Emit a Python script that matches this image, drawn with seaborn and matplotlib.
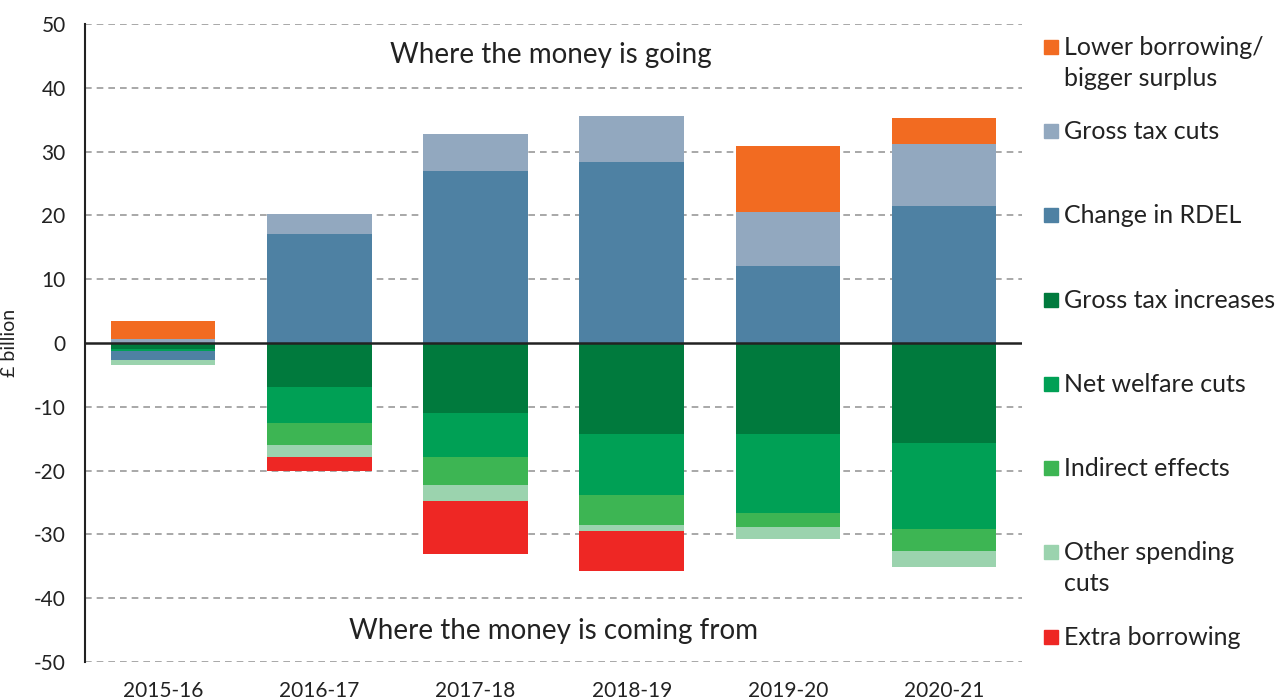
import numpy as np
import pandas as pd
import matplotlib
matplotlib.use("Agg")
import matplotlib.pyplot as plt
from matplotlib.patches import Rectangle
import seaborn as sns

years = ["2015-16", "2016-17", "2017-18", "2018-19", "2019-20", "2020-21"]

# stacking order: positives go up from 0, negatives go down from 0
gross_tax_increases = [-1.0, -6.9, -11.0, -14.2, -14.2, -15.7]
net_welfare_cuts = [-0.3, -5.6, -6.9, -9.7, -12.5, -13.5]
indirect_effects = [0.0, -3.5, -4.4, -4.6, -2.2, -3.4]
change_in_rdel = [-1.3, 17.1, 27.0, 28.3, 12.1, 21.4]
other_spending_cuts = [-0.9, -1.9, -2.5, -1.0, -1.9, -2.5]
extra_borrowing = [0.0, -2.1, -8.2, -6.2, 0.0, 0.0]
gross_tax_cuts = [0.6, 3.1, 5.7, 7.3, 8.4, 9.8]
lower_borrowing = [2.9, 0.0, 0.0, 0.0, 10.4, 4.1]

series = [
    ("Gross tax increases", gross_tax_increases, "#007a3d"),
    ("Net welfare cuts", net_welfare_cuts, "#00a055"),
    ("Indirect effects", indirect_effects, "#3db553"),
    ("Change in RDEL", change_in_rdel, "#4e81a3"),
    ("Other spending cuts", other_spending_cuts, "#9bd3ae"),
    ("Extra borrowing", extra_borrowing, "#ee2724"),
    ("Gross tax cuts", gross_tax_cuts, "#92a8bf"),
    ("Lower borrowing/\nbigger surplus", lower_borrowing, "#f26b21"),
]

legend_order = [
    "Lower borrowing/\nbigger surplus", "Gross tax cuts", "Change in RDEL",
    "Gross tax increases", "Net welfare cuts", "Indirect effects",
    "Other spending\ncuts", "Extra borrowing",
]
legend_colors = ["#f26b21", "#92a8bf", "#4e81a3", "#007a3d", "#00a055",
                 "#3db553", "#9bd3ae", "#ee2724"]


def main():
    sns.set_style("white")
    plt.rcParams["font.family"] = ["Lato", "DejaVu Sans"]
    plt.rcParams["axes.unicode_minus"] = False

    fig = plt.figure(figsize=(12.88, 7), dpi=100)
    ax = fig.add_axes([0.066, 0.0543, 0.7276, 0.9114])

    pos_base = np.zeros(len(years))
    neg_base = np.zeros(len(years))
    for name, vals, col in series:
        vals = np.array(vals)
        base = np.where(vals >= 0, pos_base, neg_base)
        df = pd.DataFrame({"year": years, "value": vals})
        sns.barplot(data=df, x="year", y="value", bottom=base, color=col,
                    saturation=1, width=0.67, errorbar=None, linewidth=0, ax=ax)
        pos_base = pos_base + np.clip(vals, 0, None)
        neg_base = neg_base + np.clip(vals, None, 0)

    ax.set_xlim(-0.5, 5.5)
    ax.set_ylim(-50, 50)
    ax.set_yticks(range(-50, 51, 10))
    for y in range(-50, 51, 10):
        if y != 0:
            ax.axhline(y, color="#999999", lw=1.2, ls=(0, (4, 3)), zorder=0)
    ax.axhline(0, color="#222222", lw=1.8, zorder=5)

    for s in ["top", "right", "bottom"]:
        ax.spines[s].set_visible(False)
    ax.spines["left"].set_color("#222222")
    ax.spines["left"].set_linewidth(1.5)
    ax.tick_params(axis="y", direction="out", length=8, width=1.3,
                   color="#222222", labelsize=15, labelcolor="#222222", pad=6)
    ax.tick_params(axis="x", length=0, labelsize=15, labelcolor="#222222", pad=14)
    ax.set_xlabel("")
    ax.set_ylabel("£ billion", fontsize=14, color="#222222")
    ax.yaxis.set_label_coords(-0.072, 0.5)

    ax.text(2.48, 45.1, "Where the money is going", ha="center", va="center",
            fontsize=20, color="#222222")
    ax.text(2.5, -45.1, "Where the money is coming from", ha="center", va="center",
            fontsize=20, color="#222222")

    # legend on the right
    ys = [47, 131, 215, 300, 384, 468, 552, 637]
    for lab, col, yp in zip(legend_order, legend_colors, ys):
        fig.patches.append(Rectangle((1044 / 1288, 1 - (yp + 7) / 700), 14 / 1288, 14 / 700,
                                     transform=fig.transFigure, color=col))
        fig.text(1064 / 1288, 1 - (yp - 11) / 700, lab, ha="left", va="top",
                 fontsize=18, color="#222222", linespacing=1.4)

    fig.savefig("out.png", dpi=100)


if __name__ == "__main__":
    main()
